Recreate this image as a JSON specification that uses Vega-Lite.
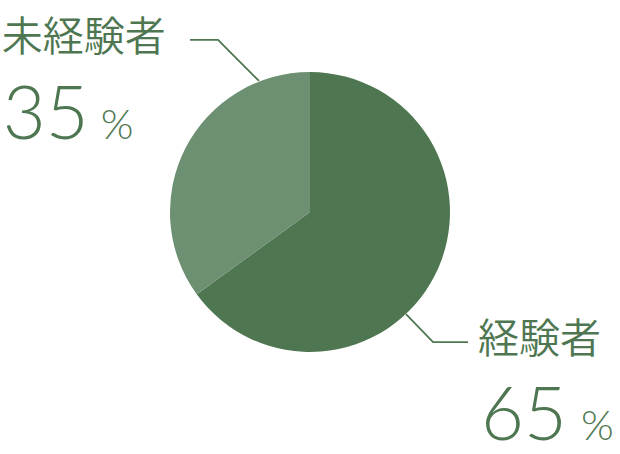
{
  "$schema": "https://vega.github.io/schema/vega-lite/v6.json",
  "width": 620,
  "height": 424,
  "autosize": "none",
  "padding": {"left": 0, "right": 0, "top": 0, "bottom": 30},
  "datasets": {
    "share": [
      {"label": "経験者", "value": 65},
      {"label": "未経験者", "value": 35}
    ],
    "leaders": [
      {"label": "未経験者", "seq": 1, "u": -0.364, "v": 0.936},
      {"label": "未経験者", "seq": 2, "u": -0.657, "v": 1.229},
      {"label": "未経験者", "seq": 3, "u": -0.857, "v": 1.229},
      {"label": "経験者", "seq": 1, "u": 0.686, "v": -0.729},
      {"label": "経験者", "seq": 2, "u": 0.879, "v": -0.929},
      {"label": "経験者", "seq": 3, "u": 1.129, "v": -0.929}
    ]
  },
  "layer": [
    {
      "data": {"name": "leaders"},
      "mark": {"type": "line", "color": "#4e7751", "strokeWidth": 1.8},
      "encoding": {
        "x": {"field": "u", "type": "quantitative", "axis": null,
              "scale": {"domain": [-2.2143, 2.2143], "nice": false, "zero": false}},
        "y": {"field": "v", "type": "quantitative", "axis": null,
              "scale": {"domain": [-1.5143, 1.5143], "nice": false, "zero": false}},
        "detail": {"field": "label"},
        "order": {"field": "seq"}
      }
    },
    {
      "data": {"name": "share"},
      "transform": [
        {"stack": "value", "groupby": [], "sort": [{"field": "value", "order": "descending"}], "as": ["v0", "v1"]}
      ],
      "layer": [
        {
          "mark": {"type": "arc", "outerRadius": 140},
          "encoding": {
            "theta": {"field": "v0", "type": "quantitative", "stack": null, "scale": {"domain": [0, 100]}},
            "theta2": {"field": "v1"},
            "color": {
              "field": "label", "type": "nominal", "legend": null,
              "scale": {"domain": ["経験者", "未経験者"], "range": ["#4e7751", "#6e9072"]}
            }
          }
        },
        {
          "transform": [{"filter": "datum.label === '未経験者'"}],
          "layer": [
            {
              "mark": {"type": "text", "radius": 140, "align": "left", "baseline": "alphabetic",
                       "font": "Noto Sans CJK JP", "fontWeight": 350, "fontSize": 41, "color": "#4e7751",
                       "dx": -195, "dy": -243},
              "encoding": {
                "theta": {"field": "v0", "type": "quantitative", "stack": null},
                "text": {"field": "label"}
              }
            },
            {
              "mark": {"type": "text", "radius": 140, "align": "left", "baseline": "alphabetic",
                       "font": "Lato", "fontWeight": 300, "fontSize": 74, "color": "#4e7751",
                       "dx": -194, "dy": -155},
              "encoding": {
                "theta": {"field": "v0", "type": "quantitative", "stack": null},
                "text": {"field": "value", "type": "quantitative"}
              }
            },
            {
              "mark": {"type": "text", "radius": 140, "align": "left", "baseline": "alphabetic",
                       "font": "Lato", "fontWeight": 300, "fontSize": 42, "color": "#4e7751",
                       "dx": -96, "dy": -155},
              "encoding": {
                "theta": {"field": "v0", "type": "quantitative", "stack": null},
                "text": {"value": "%"}
              }
            }
          ]
        },
        {
          "transform": [{"filter": "datum.label === '経験者'"}],
          "layer": [
            {
              "mark": {"type": "text", "radius": 140, "align": "left", "baseline": "alphabetic",
                       "font": "Noto Sans CJK JP", "fontWeight": 350, "fontSize": 41, "color": "#4e7751",
                       "dx": 168, "dy": 281},
              "encoding": {
                "theta": {"field": "v0", "type": "quantitative", "stack": null},
                "text": {"field": "label"}
              }
            },
            {
              "mark": {"type": "text", "radius": 140, "align": "left", "baseline": "alphabetic",
                       "font": "Lato", "fontWeight": 300, "fontSize": 74, "color": "#4e7751",
                       "dx": 171, "dy": 368},
              "encoding": {
                "theta": {"field": "v0", "type": "quantitative", "stack": null},
                "text": {"field": "value", "type": "quantitative"}
              }
            },
            {
              "mark": {"type": "text", "radius": 140, "align": "left", "baseline": "alphabetic",
                       "font": "Lato", "fontWeight": 300, "fontSize": 42, "color": "#4e7751",
                       "dx": 271, "dy": 368},
              "encoding": {
                "theta": {"field": "v0", "type": "quantitative", "stack": null},
                "text": {"value": "%"}
              }
            }
          ]
        }
      ]
    }
  ],
  "config": {
    "background": "white",
    "view": {"stroke": null}
  }
}
